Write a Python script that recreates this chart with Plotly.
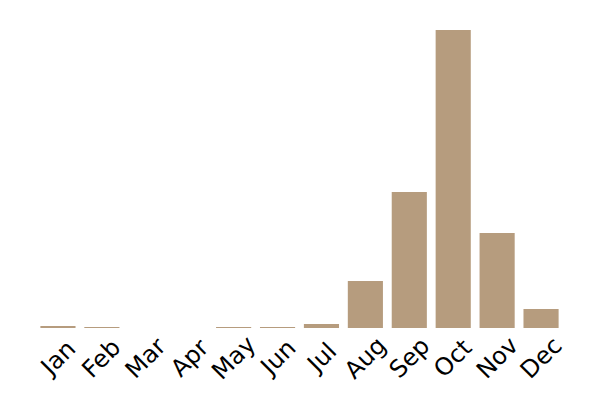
import plotly.graph_objects as go

months = ["Jan", "Feb", "Mar", "Apr", "May", "Jun", "Jul", "Aug", "Sep", "Oct", "Nov", "Dec"]
values = [2, 1, 0, 0, 1, 1, 4, 47, 136, 298, 95, 19]

fig = go.Figure(go.Bar(x=months, y=values, marker_color="#b69c7e", marker_line_width=0))
for m in months:
    fig.add_annotation(x=m, y=-0.096, xref="x", yref="paper", text=m, textangle=-45,
                       showarrow=False, xanchor="center", yanchor="middle",
                       font=dict(family="DejaVu Sans", size=24, color="black"))
fig.update_layout(
    width=600, height=400,
    margin=dict(l=35.5, r=36.5, t=15, b=72, autoexpand=False),
    plot_bgcolor="white", paper_bgcolor="white",
    bargap=0.2,
    showlegend=False,
    font=dict(family="DejaVu Sans", size=24, color="black"),
)
fig.update_xaxes(showticklabels=False, showgrid=False, showline=False, ticks="", automargin=False,
                 range=[-0.5, len(months) - 0.5])
fig.update_yaxes(visible=False, range=[0, 313], showgrid=False)
fig.write_html("out.html", config={"displayModeBar": False},
               post_script="document.body.style.margin='0';document.body.style.overflow='hidden';")
